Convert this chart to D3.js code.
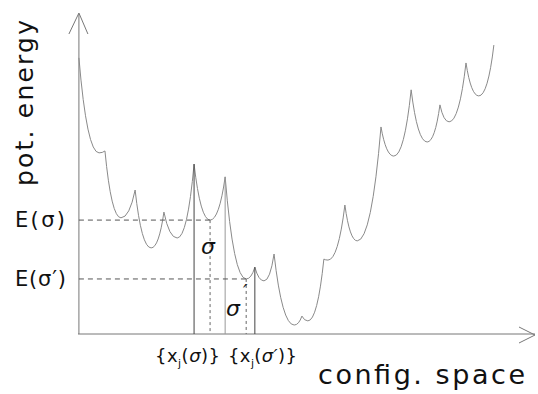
<!DOCTYPE html>
<html>
<head>
<meta charset="utf-8">
<script src="https://cdn.jsdelivr.net/npm/d3@7"></script>
<style>
  body { margin: 0; background: #fff; }
  text { font-family: "DejaVu Sans", "Liberation Sans", sans-serif; fill: #111; }
</style>
</head>
<body>
<div id="chart"></div>
<script>
// energy landscape: cusps (barriers) and minima (basins)
const cuspX = [0.2, 5.9, 12.5, 18.8, 25.4, 32.2, 38.7, 42.9, 49.0, 53.8, 58.4, 66.3, 72.9, 79.2, 84.9, 91.0];
const cuspE = [86.3, 57.2, 45.0, 38.1, 53.1, 49.1, 20.9, 25.0, 5.6, 23.4, 40.3, 64.7, 76.3, 71.6, 84.7, 90.3];
const minX  = [4.6, 9.4, 16.0, 21.7, 28.9, 36.8, 40.7, 47.3, 50.3, 54.7, 61.1, 69.1, 76.4, 81.2, 87.7];
const minE  = [56.6, 36.3, 26.9, 30.0, 35.6, 17.2, 16.6, 2.8, 4.1, 23.1, 29.1, 55.6, 60.0, 66.3, 74.4];

// the two marked basins sigma and sigma'
const basinIdx = [4, 5];
const basinLabels = ["E(σ)", "E(σ′)"];

const width = 538, height = 394;

const svg = d3.select("#chart").append("svg")
    .attr("width", width)
    .attr("height", height);

// scales (config space / energy, arbitrary units)
const x = d3.scaleLinear().domain([0, 100]).range([78, 535]);
const y = d3.scaleLinear().domain([0, 100]).range([334, 14]);

// axes with arrowheads
const axes = svg.append("g")
    .attr("stroke", "#777")
    .attr("stroke-width", 1)
    .attr("fill", "none");
axes.append("line")
    .attr("x1", x(0.2)).attr("y1", y(0))
    .attr("x2", x(0.2)).attr("y2", y(100));
axes.append("path")
    .attr("d", `M${x(0.2) - 10},${y(100) + 20}L${x(0.2)},${y(100) - 1}L${x(0.2) + 9},${y(100) + 20}`);
axes.append("line")
    .attr("x1", x(0)).attr("y1", y(0))
    .attr("x2", x(100)).attr("y2", y(0));
axes.append("path")
    .attr("d", `M${x(100) - 16},${y(0) - 7}L${x(100)},${y(0) + 1}L${x(100) - 16},${y(0) + 9}`);

// potential energy curve: each half arc drops from a cusp and flattens into the minimum
const bend = 0.4;
function halfArc(p, x0, e0, x1, e1) {
    const X0 = x(x0), Y0 = y(e0), X1 = x(x1), Y1 = y(e1);
    if (e0 > e1) {
        // cusp -> minimum
        p.quadraticCurveTo(X0 + bend * (X1 - X0), Y1, X1, Y1);
    } else {
        // minimum -> cusp
        p.quadraticCurveTo(X1 - bend * (X1 - X0), Y0, X1, Y1);
    }
}

const curve = d3.path();
curve.moveTo(x(cuspX[0]), y(cuspE[0]));
minX.forEach((m, i) => {
    halfArc(curve, cuspX[i], cuspE[i], minX[i], minE[i]);
    halfArc(curve, minX[i], minE[i], cuspX[i + 1], cuspE[i + 1]);
});

svg.append("path")
    .attr("d", curve.toString())
    .attr("fill", "none")
    .attr("stroke", "#8a8a8a")
    .attr("stroke-width", 1)
    .attr("stroke-linejoin", "miter")
    .attr("stroke-miterlimit", 20);

// markers for the two basins
const marks = svg.append("g").attr("fill", "none").attr("stroke-width", 1);
basinIdx.forEach((b, k) => {
    // dashed energy level
    marks.append("line")
        .attr("x1", x(0.2)).attr("x2", x(minX[b]))
        .attr("y1", y(minE[b])).attr("y2", y(minE[b]))
        .attr("stroke", "#555")
        .attr("stroke-dasharray", "5,4");
    // dotted drop from the minimum
    marks.append("line")
        .attr("x1", x(minX[b])).attr("x2", x(minX[b]))
        .attr("y1", y(minE[b])).attr("y2", y(0))
        .attr("stroke", "#666")
        .attr("stroke-dasharray", "3,3");
    // solid lines from the bounding barriers
    [b, b + 1].forEach(c => {
        if (k === 1 && c === b) return;
        marks.append("line")
            .attr("x1", x(cuspX[c])).attr("x2", x(cuspX[c]))
            .attr("y1", y(cuspE[c])).attr("y2", y(0))
            .attr("stroke", c === 5 ? "#999" : "#444");
    });
    // E labels
    svg.append("text")
        .attr("x", 15)
        .attr("y", y(minE[b]) + 7)
        .attr("font-size", 21)
        .attr("textLength", k === 0 ? 50 : 51)
        .text(basinLabels[k]);
});

// sigma labels in the basins
svg.append("text")
    .attr("x", 201).attr("y", 254)
    .attr("font-size", 22)
    .attr("font-style", "italic")
    .text("σ");
const s2 = svg.append("text")
    .attr("x", 226).attr("y", 316)
    .attr("font-size", 22)
    .attr("font-style", "italic");
s2.append("tspan").text("σ");
s2.append("tspan").attr("dx", 3).attr("dy", -18).attr("font-size", 20).text("′");

// configuration sets under the x axis
const setLabels = [["σ", 155, 65], ["σ′", 228, 69]];
setLabels.forEach(([s, px, len]) => {
    const t = svg.append("text")
        .attr("x", px).attr("y", 362)
        .attr("font-size", 18)
        .attr("textLength", len);
    t.append("tspan").text("{x");
    t.append("tspan").attr("font-size", 11).attr("dy", 5).text("j");
    t.append("tspan").attr("dy", -5).text("(");
    t.append("tspan").attr("font-style", "italic").text(s);
    t.append("tspan").text(")}");
});

// axis titles
svg.append("text")
    .attr("x", 318).attr("y", 384)
    .attr("font-size", 27)
    .attr("textLength", 207)
    .text("config.  space");

svg.append("text")
    .attr("transform", "translate(33,186) rotate(-90)")
    .attr("font-size", 25)
    .attr("textLength", 166)
    .text("pot. energy");
</script>
</body>
</html>
